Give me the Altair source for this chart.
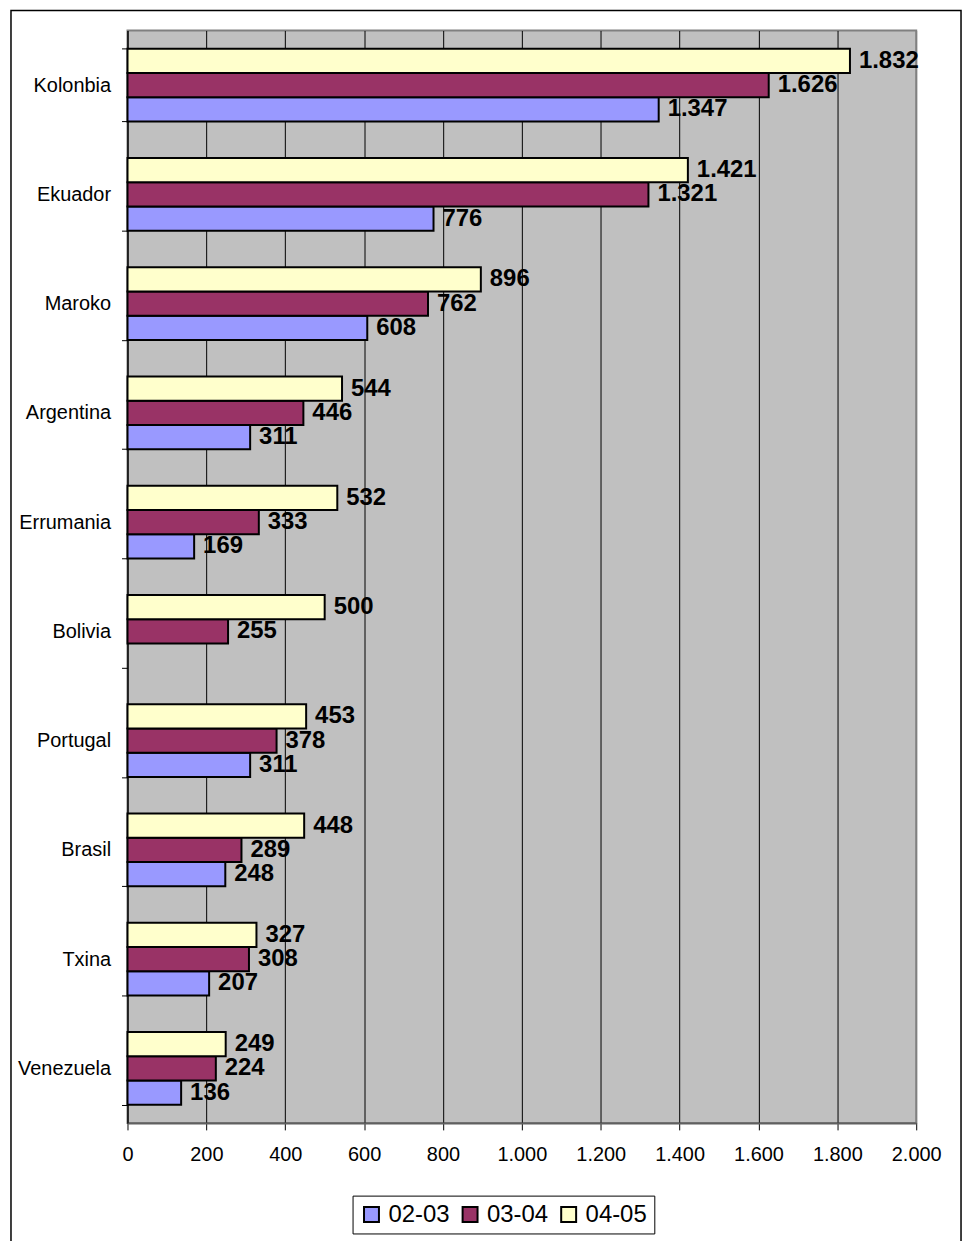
import altair as alt
import pandas as pd

countries = ["Kolonbia", "Ekuador", "Maroko", "Argentina", "Errumania",
             "Bolivia", "Portugal", "Brasil", "Txina", "Venezuela"]
series_names = ["02-03", "03-04", "04-05"]
v_02_03 = [1347, 776, 608, 311, 169, None, 311, 248, 207, 136]
v_03_04 = [1626, 1321, 762, 446, 333, 255, 378, 289, 308, 224]
v_04_05 = [1832, 1421, 896, 544, 532, 500, 453, 448, 327, 249]
x_ticks = [0, 200, 400, 600, 800, 1000, 1200, 1400, 1600, 1800, 2000]
colors = ["#9999FF", "#993366", "#FFFFCC"]

rows = []
for s, vals in zip(series_names, [v_02_03, v_03_04, v_04_05]):
    for c, v in zip(countries, vals):
        if v is not None:
            rows.append({"Country": c, "Series": s, "Value": v})
df = pd.DataFrame(rows)

FONT = "Liberation Sans"
W, H = 792, 1097

base = alt.Chart(df)

y_enc = alt.Y("Country:N", sort=countries, title=None,
              scale=alt.Scale(paddingInner=0.334, paddingOuter=0.167),
              axis=alt.Axis(tickBand="extent", labelFont=FONT, labelFontSize=20,
                            labelColor="black", labelPadding=11, tickSize=6,
                            tickColor="black", domainColor="black", domainWidth=1,
                            grid=False))
yoff = alt.YOffset("Series:N", sort=["04-05", "03-04", "02-03"],
                   scale=alt.Scale(paddingInner=0, paddingOuter=0))

bars = base.mark_bar(stroke="black", strokeWidth=2).encode(
    x=alt.X("Value:Q", title=None,
            scale=alt.Scale(domain=[0, 2000], nice=False),
            axis=alt.Axis(values=x_ticks,
                          labelExpr="replace(format(datum.value, ','), ',', '.')",
                          labelFont=FONT, labelFontSize=20, labelColor="black",
                          labelFlush=False, labelOverlap=False,
                          tickSize=7, tickColor="black", labelPadding=15,
                          domainColor="#606060", domainWidth=2,
                          grid=True,
                          gridColor={"condition": {"test": "datum.value === 2000", "value": "#808080"},
                                     "value": "black"},
                          gridWidth=1, gridOpacity=1)),
    y=y_enc,
    yOffset=yoff,
    color=alt.Color("Series:N", sort=series_names,
                    scale=alt.Scale(domain=series_names, range=colors),
                    legend=alt.Legend(title=None, orient="none", legendX=226, legendY=1170,
                                      direction="horizontal", fillColor="white",
                                      strokeColor="black", padding=7,
                                      symbolType="square", symbolSize=225,
                                      symbolStrokeColor="black", symbolStrokeWidth=2,
                                      labelFont=FONT, labelFontSize=24, labelColor="black",
                                      labelOffset=5, columnPadding=8)),
)

labels = base.transform_calculate(
    label="replace(format(datum.Value, ','), ',', '.')"
).mark_text(align="left", baseline="middle", dx=9, font=FONT, fontSize=24,
            fontWeight="bold", color="black").encode(
    x=alt.X("Value:Q"),
    y=alt.Y("Country:N", sort=countries),
    yOffset=alt.YOffset("Series:N", sort=["04-05", "03-04", "02-03"]),
    text="label:N",
)

border = alt.Chart(alt.Data(values=[{}])).mark_rect(
    fill=None, stroke="black", strokeWidth=1.5
).encode(
    x=alt.value(-117), x2=alt.value(837),
    y=alt.value(-20), y2=alt.value(1300),
)

chart = alt.layer(border, bars, labels).properties(
    width=W, height=H,
    autosize=alt.AutoSizeParams(type="none"),
    padding={"left": 120, "top": 20, "right": 50, "bottom": 116},
).configure_view(fill="#C0C0C0", stroke="#808080", strokeWidth=2)

chart.save("out.html", embed_options={"renderer": "svg", "actions": False})
